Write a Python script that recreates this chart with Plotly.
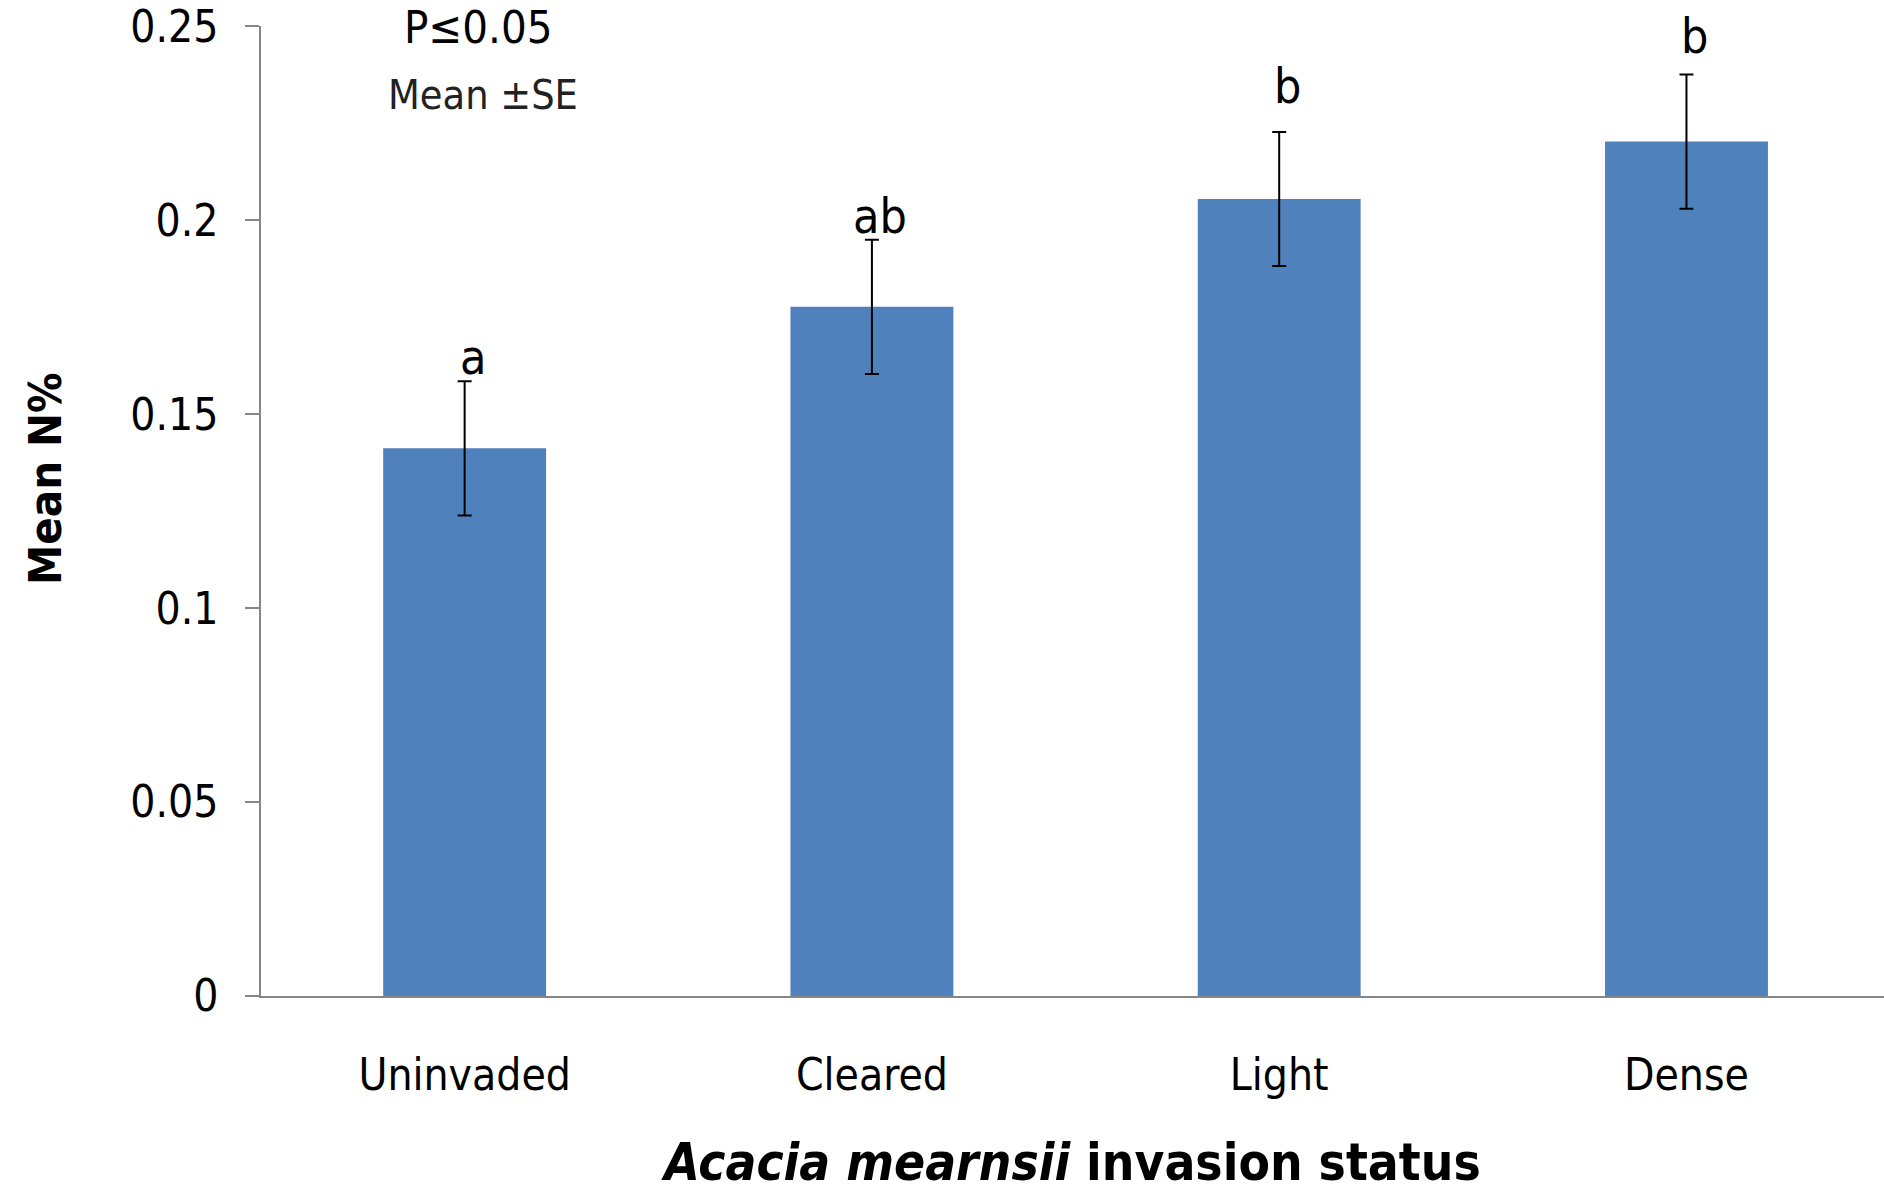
import plotly.graph_objects as go

categories = ["Uninvaded", "Cleared", "Light", "Dense"]
mean_n = [0.1412, 0.1777, 0.2055, 0.2203]
se_n = [0.0173, 0.0173, 0.0173, 0.0173]
letters = ["a", "ab", "b", "b"]
letter_shift_px = [24, 24, 46, 38]
y_tickvals = [0, 0.05, 0.1, 0.15, 0.2, 0.25]
y_ticktext = ["0", "0.05", "0.1", "0.15", "0.2", "0.25"]

FONT = "Liberation Sans Narrow, Arial Narrow, DejaVu Sans Condensed, sans-serif"

fig = go.Figure()
fig.add_trace(go.Bar(
    x=categories, y=mean_n, width=0.4,
    marker=dict(color="#4F81BD", line=dict(width=0)),
    error_y=dict(type="data", array=se_n, visible=True, color="black",
                 thickness=2, width=7),
))

for c, m, s, l, sh in zip(categories, mean_n, se_n, letters, letter_shift_px):
    fig.add_annotation(x=c, y=m + s, text=l, showarrow=False, xshift=8,
                       yshift=sh, yanchor="middle",
                       font=dict(family=FONT, size=48, color="black"))

fig.add_annotation(xref="paper", yref="paper", x=0.134, y=0.998, text="P≤0.05",
                   showarrow=False, yanchor="middle", xanchor="center",
                   font=dict(family=FONT, size=45, color="black"))
fig.add_annotation(xref="paper", yref="paper", x=0.137, y=0.929, text="Mean ±SE",
                   showarrow=False, yanchor="middle", xanchor="center",
                   font=dict(family=FONT, size=41, color="#222222"))

# y-axis title (placed as annotation to match its off-centre position)
fig.add_annotation(xref="paper", yref="paper", x=-0.1325, y=0.533,
                   text="<b>Mean N%</b>", textangle=-90, showarrow=False,
                   xanchor="center", yanchor="middle",
                   font=dict(family=FONT, size=45, color="black"))

fig.update_layout(
    width=1884, height=1192,
    margin=dict(l=261, r=0, t=26, b=194),
    paper_bgcolor="white", plot_bgcolor="white",
    showlegend=False,
    font=dict(family=FONT, color="black"),
    xaxis=dict(range=[-0.5, 3.485], showline=True, linecolor="#868686",
               linewidth=1.5, ticks="", showgrid=False, zeroline=False,
               tickfont=dict(family=FONT, size=44, color="black"),
               ticklabelstandoff=39,
               title=dict(text="<b><i>Acacia mearnsii</i> invasion status</b>",
                          font=dict(family=FONT, size=51, color="black"),
                          standoff=57)),
    yaxis=dict(range=[0, 0.2501], showline=True, linecolor="#868686",
               linewidth=1.5, ticks="outside", ticklen=14, tickwidth=1.5,
               tickcolor="#868686", showgrid=False, zeroline=False,
               tickvals=y_tickvals, ticktext=y_ticktext,
               tickfont=dict(family=FONT, size=44, color="black"),
               ticklabelstandoff=18),
)

fig.write_html("out.html")
